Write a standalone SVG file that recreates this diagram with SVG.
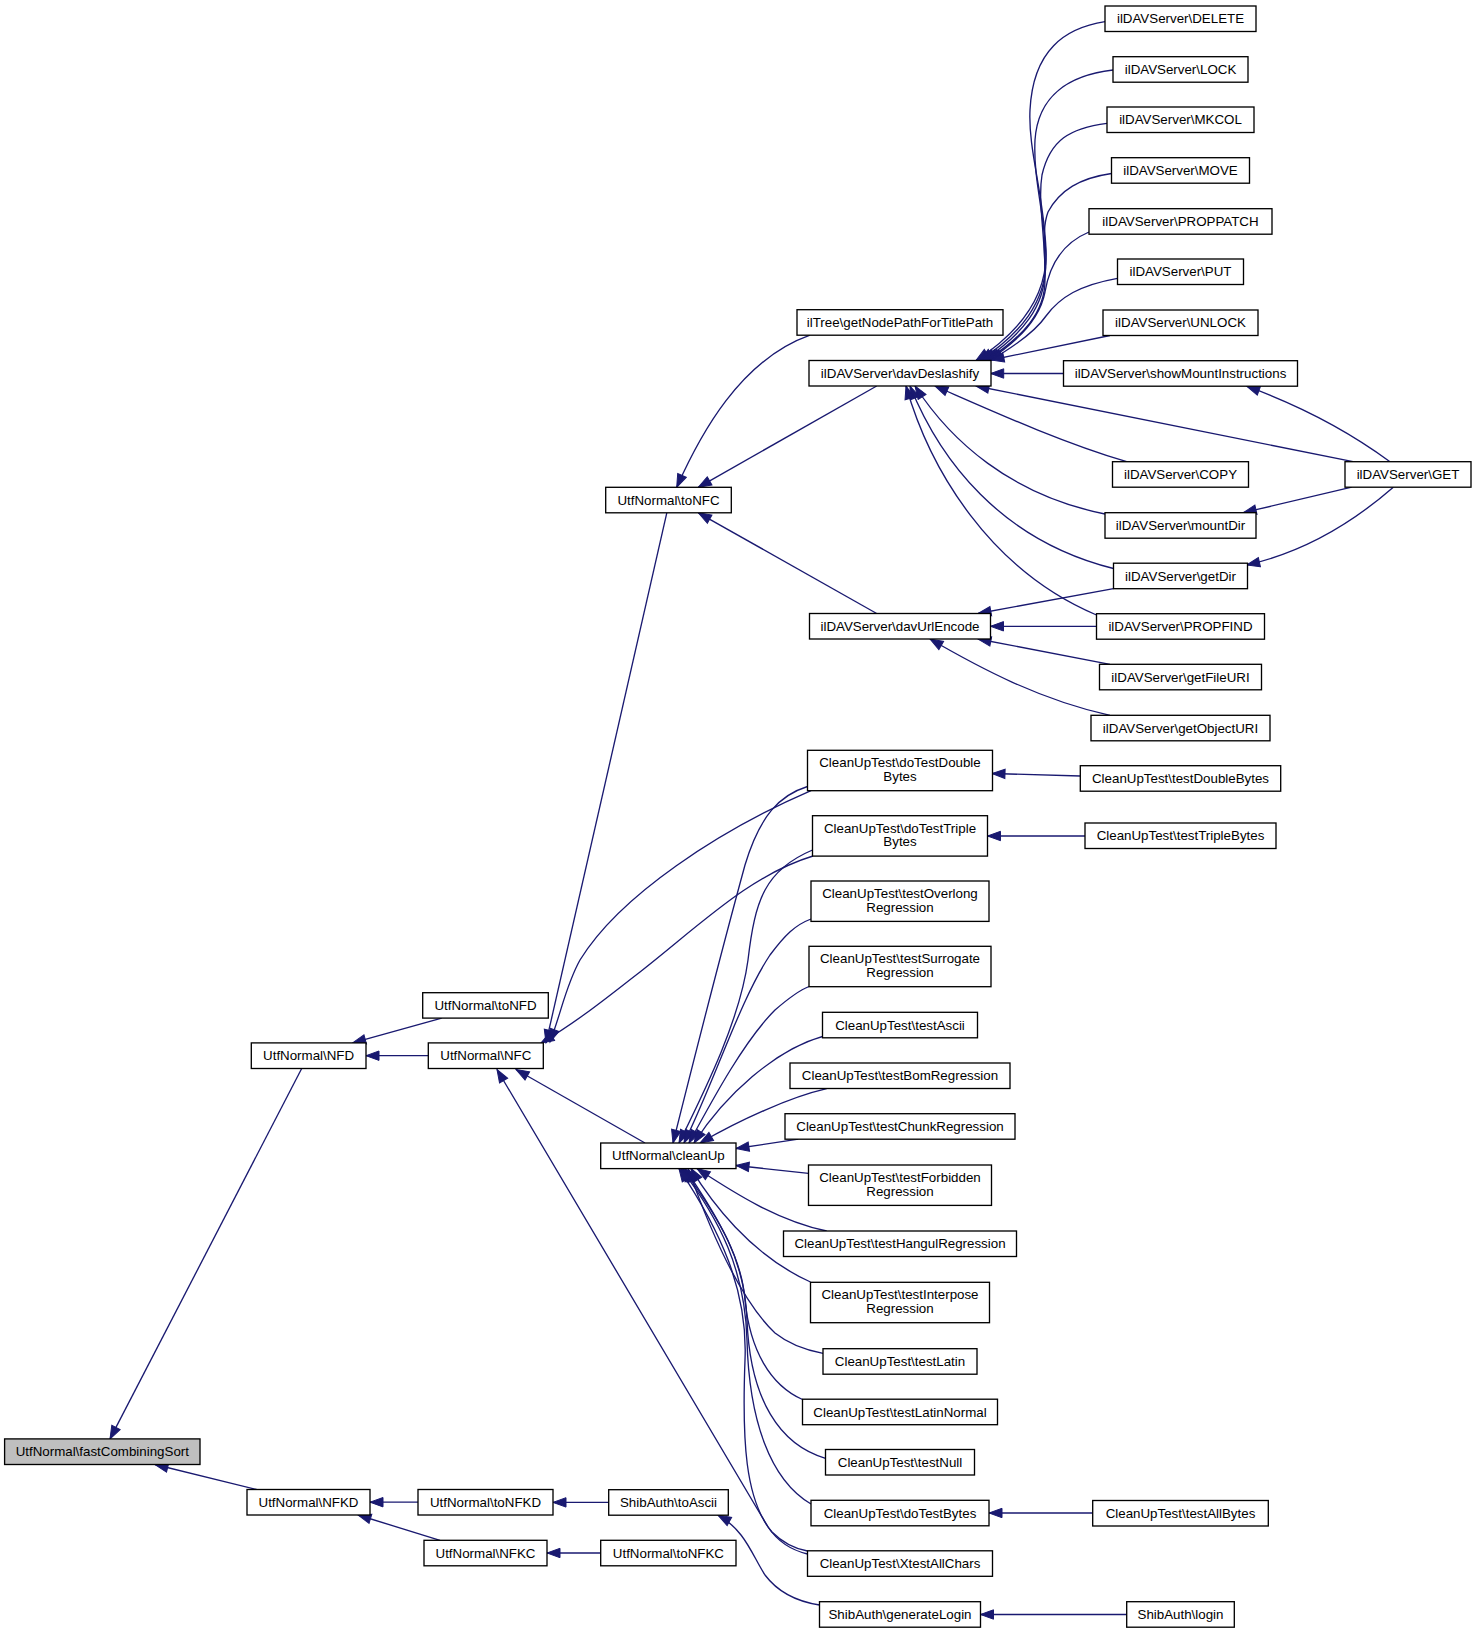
<svg xmlns="http://www.w3.org/2000/svg" width="1476" height="1633" viewBox="0 0 1476 1633">
<style>
.node rect{fill:#ffffff;stroke:#000000;stroke-width:1.33}
.root rect{fill:#bfbfbf}
.node text{font-family:"Liberation Sans",Arial,Helvetica,sans-serif;font-size:13.33px;text-anchor:middle;fill:#000000}
#connectors path{fill:none;stroke:#191970;stroke-width:1.33}
</style>
<defs>
<marker id="ah" markerUnits="userSpaceOnUse" markerWidth="16" markerHeight="12" viewBox="-1 -1 16 12" refX="13" refY="4.7" orient="auto-start-reverse">
<path d="M0,0 L13,4.7 L0,9.4 Z" fill="#191970" stroke="#191970" stroke-width="1"/>
</marker>
</defs>
<rect x="0" y="0" width="1476" height="1633" fill="#ffffff"/>
<g id="connectors" marker-start="url(#ah)">
<path d="M110,1438.9 L301.7,1068.5"/>
<path d="M155,1464.5 L256.5,1489.5"/>
<path d="M352.7,1042.9 L441.7,1018.1"/>
<path d="M366,1055.7 L428.3,1055.7"/>
<path d="M546,1042.9 L666.8,512.8"/>
<path d="M550,1042 C562,1010 566,985 580,960 C620,895 720,830 811,790.7"/>
<path d="M541,1043 C580,1020 610,995 640,972 C700,925 750,875 813,856"/>
<path d="M516,1069.5 L645,1143"/>
<path d="M497,1069.5 L768,1527 C780,1545 795,1551 807.5,1554"/>
<path d="M676.7,487.3 C700,435 740,360 810,335.2"/>
<path d="M698.3,487.3 L876.7,386"/>
<path d="M698.3,512.8 L876.7,613.5"/>
<path d="M976,360.5 C1015,335 1048,300 1046,250 C1044,195 1028,150 1030,110 C1033,50 1065,28 1105,21.7"/>
<path d="M980,360.5 C1020,334 1047,302 1046,258 C1045,215 1033,180 1035,140 C1038,95 1070,75 1113,70"/>
<path d="M983,360.5 C1022,335 1046,306 1045,268 C1044,228 1038,200 1042,175 C1050,140 1070,128 1107,123.3"/>
<path d="M986,360.5 C1024,336 1045,312 1045,280 C1045,248 1042,228 1048,212 C1060,190 1080,178 1111.5,173.5"/>
<path d="M988,360.5 C1020,340 1040,318 1045,292 C1050,262 1065,242 1089,232"/>
<path d="M990,360.5 C1015,346 1035,332 1046,316 C1060,297 1080,285 1117.5,278.3"/>
<path d="M991,360 L1110,335.5"/>
<path d="M990.7,373.5 L1063.5,373.5"/>
<path d="M976,386 L1353,461.7"/>
<path d="M935,386 C990,410 1060,442 1126.7,461.7"/>
<path d="M915,386 C950,440 1010,495 1105,514"/>
<path d="M910,386 C940,460 1000,540 1113.5,568.5"/>
<path d="M906,386 C930,470 990,570 1096.5,615"/>
<path d="M978,613.5 L1113.5,588.7"/>
<path d="M990.5,626.3 L1096.5,626.3"/>
<path d="M978,639 L1110,664.3"/>
<path d="M930,639 C980,668 1040,700 1110,715.3"/>
<path d="M1246.7,386.2 C1290,402 1340,425 1390,461.7"/>
<path d="M1243.3,512.7 L1351.7,487.2"/>
<path d="M1246.7,565 C1300,553 1350,525 1393.3,487.2"/>
<path d="M992,773.5 L1080.3,776"/>
<path d="M987.5,836 L1085,836"/>
<path d="M673,1143 C700,1035 730,920 745,865 C760,815 780,795 807.5,786.5"/>
<path d="M679,1143 C705,1090 740,1020 748,960 C755,900 765,870 812.5,850"/>
<path d="M684,1143 C715,1080 740,1000 770,955 C785,935 795,925 811,919"/>
<path d="M689,1143 C715,1095 745,1040 775,1010 C790,997 800,990 809,986.5"/>
<path d="M694,1143 C725,1095 775,1050 822.5,1036.5"/>
<path d="M700,1143 C740,1120 790,1097 826.7,1088.7"/>
<path d="M736,1148.5 L798.3,1139.2"/>
<path d="M736,1165.5 L808.5,1173.3"/>
<path d="M697,1168.6 C730,1190 775,1220 826.7,1231"/>
<path d="M691,1168.6 C710,1200 750,1255 810.5,1282"/>
<path d="M688,1168.6 C710,1230 740,1300 775,1333 C790,1345 805,1350 823,1353.3"/>
<path d="M685,1168.6 C720,1220 742,1260 745,1300 C750,1350 770,1385 802.5,1399.5"/>
<path d="M683,1168.6 C720,1220 745,1260 747,1320 C750,1400 780,1445 825.5,1458.3"/>
<path d="M681,1168.6 C720,1220 745,1270 747,1340 C749,1420 770,1480 811,1504"/>
<path d="M679,1168.6 C720,1230 748,1290 745,1360 C742,1440 745,1500 772,1532 C785,1545 796,1549 807.5,1551"/>
<path d="M989,1513 L1092.7,1513"/>
<path d="M370,1502.2 L418,1502.2"/>
<path d="M358,1515 L440,1540.3"/>
<path d="M553,1502.4 L608.7,1502.4"/>
<path d="M547,1553 L600.7,1553"/>
<path d="M718,1515.2 C745,1530 752,1555 765,1575 C780,1595 800,1602 819.5,1605"/>
<path d="M980.5,1614.5 L1126.7,1614.5"/>
</g>
<g id="n_DELETE" class="node"><rect x="1105" y="6" width="151" height="25.5"/><text x="1180.5" y="23.3">ilDAVServer\DELETE</text></g>
<g id="n_LOCK" class="node"><rect x="1113" y="56.7" width="135" height="25.5"/><text x="1180.5" y="74">ilDAVServer\LOCK</text></g>
<g id="n_MKCOL" class="node"><rect x="1107" y="107" width="147" height="25.5"/><text x="1180.5" y="124.3">ilDAVServer\MKCOL</text></g>
<g id="n_MOVE" class="node"><rect x="1111.5" y="157.7" width="138" height="25.5"/><text x="1180.5" y="175">ilDAVServer\MOVE</text></g>
<g id="n_PROPPATCH" class="node"><rect x="1089" y="208.7" width="183" height="25.5"/><text x="1180.5" y="226">ilDAVServer\PROPPATCH</text></g>
<g id="n_PUT" class="node"><rect x="1117.5" y="259" width="126" height="25.5"/><text x="1180.5" y="276.3">ilDAVServer\PUT</text></g>
<g id="n_UNLOCK" class="node"><rect x="1103" y="310" width="155" height="25.5"/><text x="1180.5" y="327.3">ilDAVServer\UNLOCK</text></g>
<g id="n_showMountInstructions" class="node"><rect x="1063.5" y="360.7" width="234" height="25.5"/><text x="1180.5" y="378">ilDAVServer\showMountInstructions</text></g>
<g id="n_COPY" class="node"><rect x="1112.5" y="461.7" width="136" height="25.5"/><text x="1180.5" y="479">ilDAVServer\COPY</text></g>
<g id="n_GET" class="node"><rect x="1345" y="461.7" width="126" height="25.5"/><text x="1408" y="479">ilDAVServer\GET</text></g>
<g id="n_mountDir" class="node"><rect x="1105" y="512.7" width="151" height="25.5"/><text x="1180.5" y="530">ilDAVServer\mountDir</text></g>
<g id="n_getDir" class="node"><rect x="1113.5" y="563.2" width="134" height="25.5"/><text x="1180.5" y="580.5">ilDAVServer\getDir</text></g>
<g id="n_PROPFIND" class="node"><rect x="1096.5" y="613.7" width="168" height="25.5"/><text x="1180.5" y="631">ilDAVServer\PROPFIND</text></g>
<g id="n_getFileURI" class="node"><rect x="1099.5" y="664.3" width="162" height="25.5"/><text x="1180.5" y="681.6">ilDAVServer\getFileURI</text></g>
<g id="n_getObjectURI" class="node"><rect x="1091" y="715.3" width="179" height="25.5"/><text x="1180.5" y="732.6">ilDAVServer\getObjectURI</text></g>
<g id="n_testDoubleBytes" class="node"><rect x="1080.3" y="765.7" width="200.4" height="25.5"/><text x="1180.5" y="783">CleanUpTest\testDoubleBytes</text></g>
<g id="n_testTripleBytes" class="node"><rect x="1085" y="823" width="191" height="25.5"/><text x="1180.5" y="840.3">CleanUpTest\testTripleBytes</text></g>
<g id="n_testAllBytes" class="node"><rect x="1092.7" y="1500.5" width="175.6" height="25.5"/><text x="1180.5" y="1517.8">CleanUpTest\testAllBytes</text></g>
<g id="n_login" class="node"><rect x="1126.7" y="1601.7" width="107.6" height="25.5"/><text x="1180.5" y="1619">ShibAuth\login</text></g>
<g id="n_getNodePathForTitlePath" class="node"><rect x="797" y="309.7" width="206" height="25.5"/><text x="900" y="327">ilTree\getNodePathForTitlePath</text></g>
<g id="n_davDeslashify" class="node"><rect x="809" y="360.5" width="182" height="25.5"/><text x="900" y="377.8">ilDAVServer\davDeslashify</text></g>
<g id="n_davUrlEncode" class="node"><rect x="809.5" y="613.5" width="181" height="25.5"/><text x="900" y="630.8">ilDAVServer\davUrlEncode</text></g>
<g id="n_doTestDoubleBytes" class="node"><rect x="807.5" y="750.3" width="185" height="40.4"/><text x="900" y="767.2">CleanUpTest\doTestDouble</text><text x="900" y="781">Bytes</text></g>
<g id="n_doTestTripleBytes" class="node"><rect x="812.5" y="815.7" width="175" height="40.4"/><text x="900" y="832.6">CleanUpTest\doTestTriple</text><text x="900" y="846.4">Bytes</text></g>
<g id="n_testOverlongRegression" class="node"><rect x="811" y="881" width="178" height="40.4"/><text x="900" y="897.9">CleanUpTest\testOverlong</text><text x="900" y="911.7">Regression</text></g>
<g id="n_testSurrogateRegression" class="node"><rect x="809" y="946.3" width="182" height="40.4"/><text x="900" y="963.2">CleanUpTest\testSurrogate</text><text x="900" y="977">Regression</text></g>
<g id="n_testAscii" class="node"><rect x="822.5" y="1012.3" width="155" height="25.5"/><text x="900" y="1029.6">CleanUpTest\testAscii</text></g>
<g id="n_testBomRegression" class="node"><rect x="790" y="1063" width="220" height="25.5"/><text x="900" y="1080.3">CleanUpTest\testBomRegression</text></g>
<g id="n_testChunkRegression" class="node"><rect x="785" y="1113.7" width="230" height="25.5"/><text x="900" y="1131">CleanUpTest\testChunkRegression</text></g>
<g id="n_testForbiddenRegression" class="node"><rect x="808.5" y="1165" width="183" height="40.4"/><text x="900" y="1181.9">CleanUpTest\testForbidden</text><text x="900" y="1195.7">Regression</text></g>
<g id="n_testHangulRegression" class="node"><rect x="783.5" y="1231" width="233" height="25.5"/><text x="900" y="1248.3">CleanUpTest\testHangulRegression</text></g>
<g id="n_testInterposeRegression" class="node"><rect x="810.5" y="1282.3" width="179" height="40.4"/><text x="900" y="1299.2">CleanUpTest\testInterpose</text><text x="900" y="1313">Regression</text></g>
<g id="n_testLatin" class="node"><rect x="823" y="1348.7" width="154" height="25.5"/><text x="900" y="1366">CleanUpTest\testLatin</text></g>
<g id="n_testLatinNormal" class="node"><rect x="802.5" y="1399.2" width="195" height="25.5"/><text x="900" y="1416.5">CleanUpTest\testLatinNormal</text></g>
<g id="n_testNull" class="node"><rect x="825.5" y="1449.5" width="149" height="25.5"/><text x="900" y="1466.8">CleanUpTest\testNull</text></g>
<g id="n_doTestBytes" class="node"><rect x="811" y="1500.3" width="178" height="25.5"/><text x="900" y="1517.6">CleanUpTest\doTestBytes</text></g>
<g id="n_XtestAllChars" class="node"><rect x="807.5" y="1550.8" width="185" height="25.5"/><text x="900" y="1568.1">CleanUpTest\XtestAllChars</text></g>
<g id="n_generateLogin" class="node"><rect x="819.5" y="1601.7" width="161" height="25.5"/><text x="900" y="1619">ShibAuth\generateLogin</text></g>
<g id="n_toNFC" class="node"><rect x="605.7" y="487.3" width="125.6" height="25.5"/><text x="668.5" y="504.6">UtfNormal\toNFC</text></g>
<g id="n_cleanUp" class="node"><rect x="600.7" y="1143" width="135.3" height="25.6"/><text x="668.4" y="1160.3">UtfNormal\cleanUp</text></g>
<g id="n_toAscii" class="node"><rect x="608.7" y="1489.7" width="119.6" height="25.5"/><text x="668.5" y="1507">ShibAuth\toAscii</text></g>
<g id="n_toNFKC" class="node"><rect x="600.7" y="1540.3" width="135.3" height="25.5"/><text x="668.4" y="1557.6">UtfNormal\toNFKC</text></g>
<g id="n_toNFD" class="node"><rect x="422.7" y="992.7" width="125.6" height="25.4"/><text x="485.5" y="1010">UtfNormal\toNFD</text></g>
<g id="n_NFC" class="node"><rect x="428.3" y="1042.9" width="115" height="25.6"/><text x="485.8" y="1060.2">UtfNormal\NFC</text></g>
<g id="n_toNFKD" class="node"><rect x="418" y="1489.5" width="135" height="25.5"/><text x="485.5" y="1506.8">UtfNormal\toNFKD</text></g>
<g id="n_NFKC" class="node"><rect x="424" y="1540.3" width="123" height="25.5"/><text x="485.5" y="1557.6">UtfNormal\NFKC</text></g>
<g id="n_NFD" class="node"><rect x="251.3" y="1042.9" width="114.7" height="25.6"/><text x="308.6" y="1060.2">UtfNormal\NFD</text></g>
<g id="n_NFKD" class="node"><rect x="247" y="1489.5" width="123" height="25.5"/><text x="308.5" y="1506.8">UtfNormal\NFKD</text></g>
<g id="n_fastCombiningSort" class="node root"><rect x="4.6" y="1438.9" width="195.4" height="25.6"/><text x="102.3" y="1456.2">UtfNormal\fastCombiningSort</text></g>
</svg>
